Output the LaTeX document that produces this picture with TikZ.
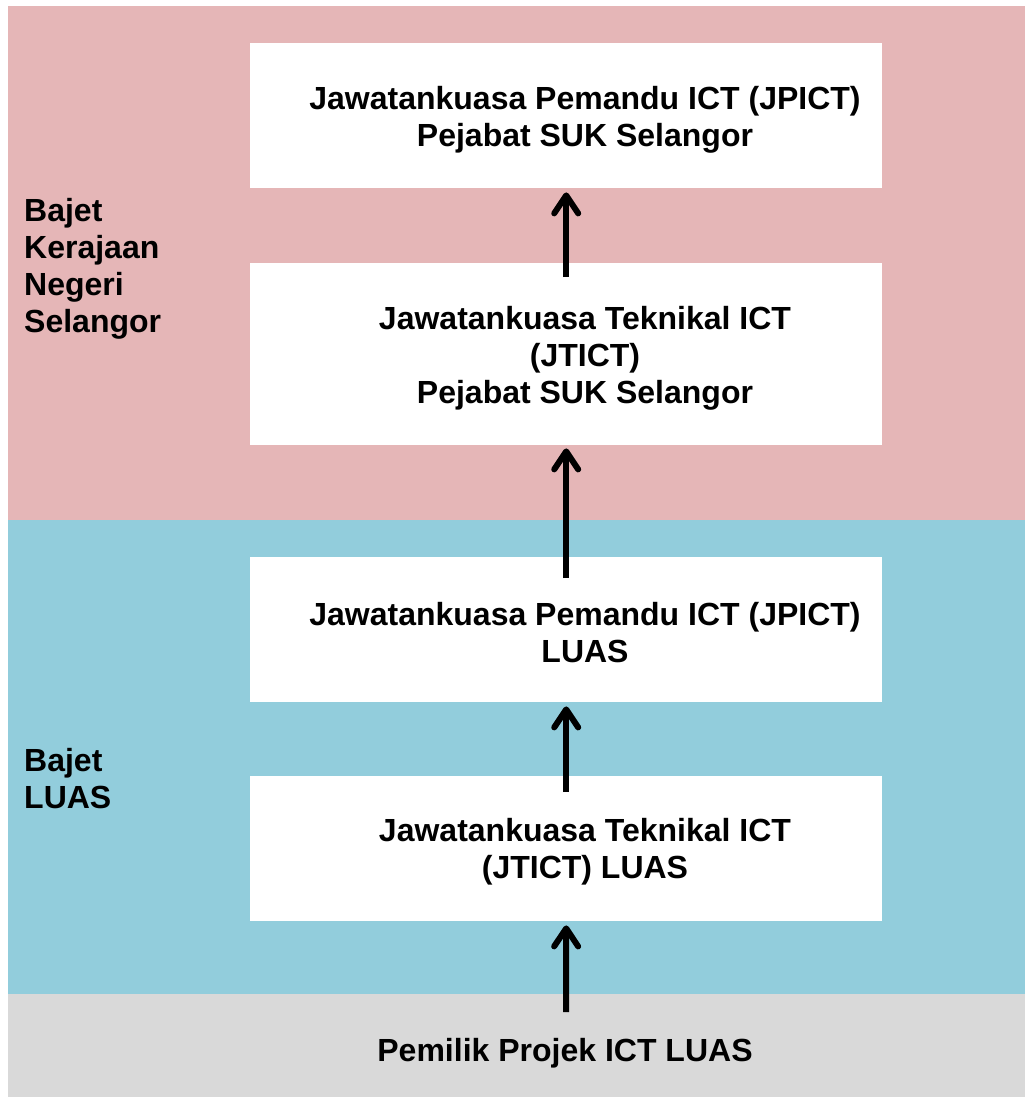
\documentclass[tikz,border=0pt]{standalone}
\usepackage{fontspec}
\setmainfont{Liberation Sans}
\usetikzlibrary{arrows.meta}
\definecolor{pinkbg}{RGB}{229,182,183}
\definecolor{bluebg}{RGB}{146,205,220}
\definecolor{graybg}{RGB}{217,217,217}
\begin{document}
\begin{tikzpicture}[x=1pt,y=-1pt,
  box/.style={draw=none,fill=white,minimum width=632pt,inner sep=0pt,anchor=north west},
  txt/.style={font=\bfseries\fontsize{32}{37}\selectfont,align=center,inner sep=0pt},
  side/.style={font=\bfseries\fontsize{32}{37}\selectfont,align=left,anchor=north west,inner sep=0pt},
  arr/.style={line width=6pt,-{Straight Barb[length=18pt,width=24pt,round]}}]
\useasboundingbox (0,0) rectangle (1025,1097);
\fill[pinkbg] (8,6) rectangle (1025,520);
\fill[bluebg] (8,520) rectangle (1025,994);
\fill[graybg] (8,994) rectangle (1025,1097);
% boxes
\node[box,minimum height=145pt] (b1) at (250,43) {};
\node[box,minimum height=182pt] (b2) at (250,263) {};
\node[box,minimum height=145pt] (b3) at (250,557) {};
\node[box,minimum height=145pt] (b4) at (250,776) {};
% box texts
\node[txt] (t1) at (585,120) {Jawatankuasa Pemandu ICT (JPICT)\\Pejabat SUK Selangor};
\node[txt] (t2) at (585,358) {Jawatankuasa Teknikal ICT\\(JTICT)\\Pejabat SUK Selangor};
\node[txt] (t3) at (585,633) {Jawatankuasa Pemandu ICT (JPICT)\\LUAS};
\node[txt] (t4) at (585,852) {Jawatankuasa Teknikal ICT\\(JTICT) LUAS};
% side labels
\node[side] (s1) at (24,198) {Bajet\\Kerajaan\\Negeri\\Selangor};
\node[side] (s2) at (24,748) {Bajet\\LUAS};
% bottom
\node[txt] (own) at (565,1053) {Pemilik Projek ICT LUAS};
\coordinate (tail) at (566,1012);
% arrows
\draw[arr] ([yshift=-14pt]b2.north) -- ([yshift=-4pt]b1.south);
\draw[arr] ([yshift=-21pt]b3.north) -- ([yshift=-3pt]b2.south);
\draw[arr] ([yshift=-16pt]b4.north) -- ([yshift=-4pt]b3.south);
\draw[arr] (tail) -- ([yshift=-4pt]b4.south);
\end{tikzpicture}
\end{document}
